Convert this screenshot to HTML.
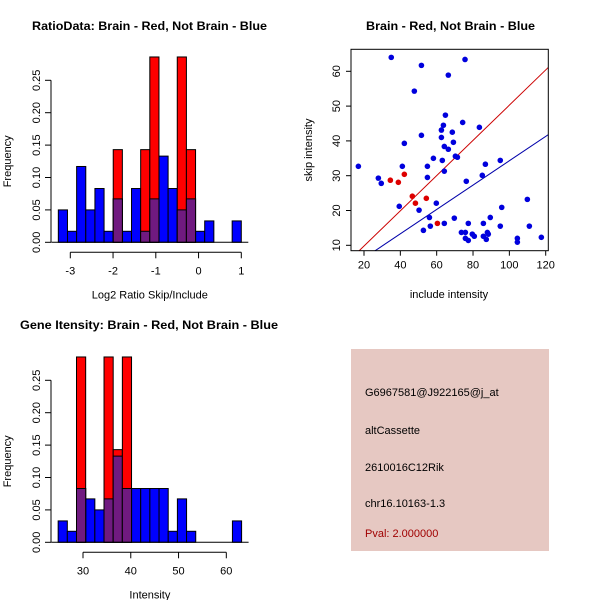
<!DOCTYPE html>
<html><head><meta charset="utf-8"><style>
body{margin:0;background:#fff;}
svg{display:block;font-family:"Liberation Sans",sans-serif;}
</style></head><body>
<svg id="c" width="600" height="600" viewBox="0 0 600 600" xmlns="http://www.w3.org/2000/svg">
<rect width="600" height="600" fill="#fff"/>
<text x="32" y="30" font-size="12" font-weight="bold" textLength="235" lengthAdjust="spacingAndGlyphs">RatioData: Brain - Red, Not Brain - Blue</text>
<text x="366" y="30" font-size="12" font-weight="bold" textLength="169" lengthAdjust="spacingAndGlyphs">Brain - Red, Not Brain - Blue</text>
<text x="20" y="329" font-size="12" font-weight="bold" textLength="258" lengthAdjust="spacingAndGlyphs">Gene Itensity: Brain - Red, Not Brain - Blue</text>
<g id="h1"></g>
<g id="h2"></g>
<g id="sc"></g>
<g>
<rect x="351" y="349" width="198" height="202" fill="#e6c8c2"/>
<g font-size="11" fill="#000">
<text x="365" y="396">G6967581@J922165@j_at</text>
<text x="365" y="434">altCassette</text>
<text x="365" y="471">2610016C12Rik</text>
<text x="365" y="507">chr16.10163-1.3</text>
<text x="365" y="537" fill="#a00000">Pval: 2.000000</text>
</g></g>
</svg>
<script>
const NS='http://www.w3.org/2000/svg';
// Ratio histogram data
const ratioStart=-3.28, ratioWidth=0.214;
const ratioBlue=[0.05,0.017,0.117,0.05,0.083,0.017,0.067,0.017,0.083,0.017,0.067,0.133,0.083,0.05,0.067,0.017,0.033,0,0,0.033];
const ratioRed=[0,0,0,0,0,0,0.143,0,0,0.143,0.286,0,0,0.286,0.143,0,0,0,0,0];
const ratioTicks=[-3,-2,-1,0,1];
// Intensity histogram data
const intStart=24.8, intWidth=1.92;
const intBlue=[0.033,0.017,0.083,0.067,0.05,0.067,0.133,0.083,0.083,0.083,0.083,0.083,0.017,0.067,0.017,0,0,0,0,0.033];
const intRed=[0,0,0.286,0,0,0.286,0.143,0.286,0,0,0,0,0,0,0,0,0,0,0,0];
const intTicks=[30,40,50,60];
const freqTicks=[0,0.05,0.10,0.15,0.20,0.25];
const freqLabels=['0.00','0.05','0.10','0.15','0.20','0.25'];
// Scatter data
const blueX=[35.0,51.6,75.6,66.4,47.7,64.8,74.3,83.5,63.7,62.6,68.6,51.6,62.6,69.2,42.2,64.2,66.4,70.3,71.4,58.2,63.1,95.0,86.8,16.9,41.1,54.9,64.2,27.9,54.9,85.1,29.5,76.3,39.4,59.8,50.3,109.9,95.8,56.0,89.5,69.7,52.7,56.5,64.2,77.4,85.7,95.0,111.0,73.6,75.8,75.8,77.4,79.6,80.7,85.7,87.3,87.9,88.4,104.4,104.4,117.6];
const blueY=[64.0,61.7,63.4,58.9,54.3,47.4,45.3,43.9,44.5,43.1,42.5,41.6,41.0,39.6,39.3,38.4,37.6,35.6,35.3,35.0,34.4,34.4,33.3,32.7,32.7,32.7,31.3,29.3,29.5,30.1,27.8,28.4,21.2,22.1,20.1,23.2,20.9,18.0,18.0,17.8,14.3,15.5,16.3,16.3,16.3,15.5,15.5,13.7,13.7,12.0,11.4,13.2,12.6,12.6,11.7,13.7,13.2,12.0,10.9,12.3];
const redX=[34.5,38.9,42.2,46.6,48.3,54.3,60.4];
const redY=[28.7,28.1,30.4,24.1,22.1,23.5,16.3];
const redFit=[-0.33,0.506];
const blueFit=[-0.7,0.35];
const scXTicks=[20,40,60,80,100,120];
const scYTicks=[10,20,30,40,50,60];

function el(p,t,a){const e=document.createElementNS(NS,t);for(const k in a)e.setAttribute(k,a[k]);p.appendChild(e);return e;}
function hist(gid,y0,start,w,blue,red,ticks,xs,xlab){
  const g=document.getElementById(gid);
  const ys=v=>y0-v*648;
  const bx=i=>xs(start+i*w);
  blue.forEach((v,i)=>{if(v>0){const r=el(g,'rect',{x:bx(i),y:ys(v),width:bx(i+1)-bx(i),height:y0-ys(v),fill:'#0000ff',stroke:'#000','stroke-width':1});
    
    }});
  red.forEach((v,i)=>{if(v>0){const r=el(g,'rect',{x:bx(i),y:ys(v),width:bx(i+1)-bx(i),height:y0-ys(v),fill:'#ff0000',stroke:'#000','stroke-width':1});
    
    
    const m=Math.min(v,blue[i]);if(m>0){const p=el(g,'rect',{x:bx(i),y:ys(m),width:bx(i+1)-bx(i),height:y0-ys(m),fill:'#701a80',stroke:'#000','stroke-width':1});
    
    }}});
  el(g,'line',{x1:bx(0)-7,x2:bx(20)+7,y1:y0,y2:y0,stroke:'#000'});
  el(g,'line',{x1:51,x2:51,y1:ys(0),y2:ys(0.25),stroke:'#000'});
  freqTicks.forEach((v,i)=>{el(g,'line',{x1:45,x2:51,y1:ys(v),y2:ys(v),stroke:'#000'});
    const t=el(g,'text',{x:40,y:ys(v),'font-size':11,'text-anchor':'middle',transform:`rotate(-90 40 ${ys(v)})`});t.textContent=freqLabels[i];
    
    });
  const ax=y0+10;
  el(g,'line',{x1:xs(ticks[0]),x2:xs(ticks[ticks.length-1]),y1:ax,y2:ax,stroke:'#000'});
  ticks.forEach(v=>{el(g,'line',{x1:xs(v),x2:xs(v),y1:ax,y2:ax+6,stroke:'#000'});
    const t=el(g,'text',{x:xs(v),y:ax+22,'font-size':11,'text-anchor':'middle'});t.textContent=v;
    
    });
  const xl=el(g,'text',{x:(bx(0)+bx(20))/2,y:y0+56,'font-size':11,'text-anchor':'middle'});xl.textContent=xlab;
  
  
  const yl=el(g,'text',{x:11,y:ys(0.125),'font-size':11,'text-anchor':'middle',transform:`rotate(-90 11 ${ys(0.125)})`});yl.textContent='Frequency';
  
  
}
hist('h1',242.3,ratioStart,ratioWidth,ratioBlue,ratioRed,ratioTicks,v=>70.3+(v+3)*42.75,'Log2 Ratio Skip/Include');
hist('h2',542.3,intStart,intWidth,intBlue,intRed,intTicks,v=>83+(v-30)*4.777,'Intensity');

// scatter
(function(){
  const g=document.getElementById('sc');
  const X=v=>364+(v-20)*1.817, Y=v=>245.3-(v-10)*3.48;
  const L=351,R=548.3,T=49.3,B=250.7;
  el(g,'defs',{}).innerHTML='<clipPath id="clp"><rect x="351" y="49.3" width="197.3" height="201.4"/></clipPath>';
  const d0=(L-364)/1.817+20, d1=(R-364)/1.817+20;
  [[redFit,'#cc0000','red-fit-line'],[blueFit,'#0000aa','blue-fit-line']].forEach(([f,c,n])=>{
    const l=el(g,'line',{x1:X(d0),y1:Y(f[0]+f[1]*d0),x2:X(d1),y2:Y(f[0]+f[1]*d1),stroke:c,'clip-path':'url(#clp)'});
    
    });
  blueX.forEach((v,i)=>{const c=el(g,'circle',{cx:X(v),cy:Y(blueY[i]),r:2.8,fill:'#0000dd'});
    
    });
  redX.forEach((v,i)=>{const c=el(g,'circle',{cx:X(v),cy:Y(redY[i]),r:2.8,fill:'#dd0000'});
    
    });
  el(g,'rect',{x:L,y:T,width:R-L,height:B-T,fill:'none',stroke:'#000'});
  scXTicks.forEach(v=>{el(g,'line',{x1:X(v),x2:X(v),y1:B,y2:B+5,stroke:'#000'});
    const t=el(g,'text',{x:X(v),y:B+18,'font-size':11,'text-anchor':'middle'});t.textContent=v;
    
    });
  scYTicks.forEach(v=>{el(g,'line',{x1:L-5,x2:L,y1:Y(v),y2:Y(v),stroke:'#000'});
    const t=el(g,'text',{x:340,y:Y(v),'font-size':11,'text-anchor':'middle',transform:`rotate(-90 340 ${Y(v)})`});t.textContent=v;
    
    });
  const xl=el(g,'text',{x:449,y:298,'font-size':11,'text-anchor':'middle'});xl.textContent='include intensity';
  
  
  const yl=el(g,'text',{x:312,y:150,'font-size':11,'text-anchor':'middle',transform:'rotate(-90 312 150)'});yl.textContent='skip intensity';
  
  
})();
</script>
</body></html>
